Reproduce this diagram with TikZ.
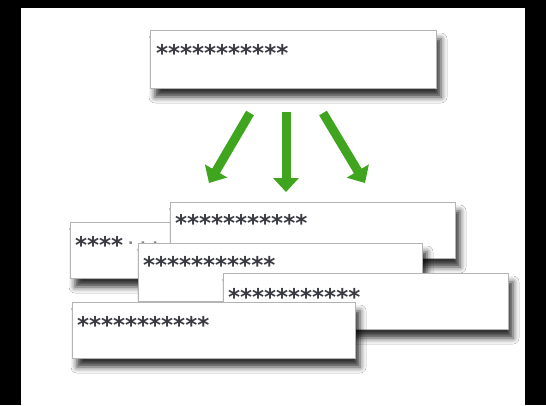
\documentclass[tikz,border=0pt]{standalone}
\usepackage{fontspec}
\newfontfamily\starfont{DejaVu Sans}
\usetikzlibrary{arrows.meta,shadows.blur}
\definecolor{bordergray}{RGB}{180,180,180}
\definecolor{arrowgreen}{RGB}{64,165,30}
\definecolor{stargray}{RGB}{58,58,66}
\definecolor{dotgray}{RGB}{130,130,130}
\begin{document}
\begin{tikzpicture}[x=1pt,y=-1pt,
  card/.style={draw=bordergray, line width=0.8pt, fill=white, anchor=north west,
    minimum width=285pt, minimum height=57pt, inner sep=0pt, outer sep=0pt,
    blur shadow={shadow xshift=5pt, shadow yshift=-9pt, shadow blur radius=6pt, shadow opacity=80}},
  stars/.style={anchor=base west, inner sep=0pt, outer sep=0pt, text=stargray,
    font=\starfont\bfseries\fontsize{23pt}{23pt}\selectfont},
  bigarrow/.style={draw=arrowgreen, line width=9pt, line cap=butt,
    -{Triangle[length=14pt,width=25pt]}}]
\useasboundingbox (0,0) rectangle (546,405);
\fill[black] (0,0) rectangle (546,405);
\fill[white] (21,8) rectangle (525,405);

% top card
\node[card, minimum width=286pt, minimum height=58pt] (top) at (150,30) {};
\node[stars] (toptext) at (156,61) {***********};

% arrows
\coordinate (la) at (250,113);
\coordinate (lb) at (209,183);
\coordinate (ma) at (286,112);
\coordinate (mb) at (286,192);
\coordinate (ra) at (323,113);
\coordinate (rb) at (365,183);
\draw[bigarrow] (la) -- (lb);
\draw[bigarrow] (ma) -- (mb);
\draw[bigarrow] (ra) -- (rb);

% stacked cards, back to front
\node[card, minimum height=56pt] (cA) at (70,222) {};
\node[stars] (tA) at (75,253) {****{\color{dotgray}\fontsize{14pt}{14pt}\selectfont\raisebox{9pt}{\hspace{5pt}.\hspace{7pt}.\hspace{7pt}.}}};
\node[card, minimum height=56pt] (cB) at (170,202) {};
\node[stars] (tB) at (175,231) {***********};
\node[card, minimum width=284pt, minimum height=58pt] (cC) at (138,243) {};
\node[stars] (tC) at (143,273) {***********};
\node[card, minimum height=56pt] (cD) at (223,273) {};
\node[stars] (tD) at (228,305) {***********};
\node[card, minimum width=283pt, minimum height=56pt] (cE) at (72,302) {};
\node[stars] (tE) at (77,333) {***********};
\end{tikzpicture}
\end{document}
